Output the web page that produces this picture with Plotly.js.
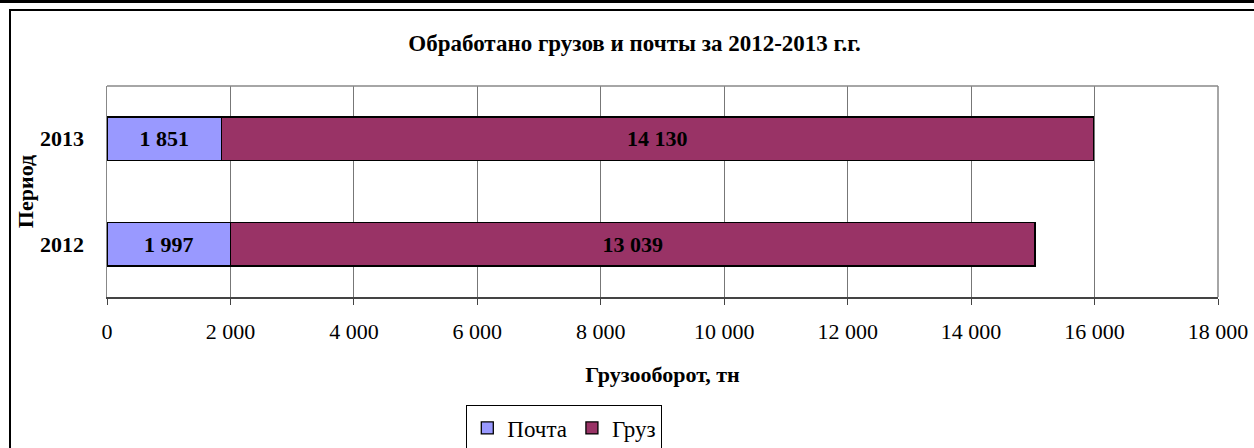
<!DOCTYPE html>
<html>
<head>
<meta charset="utf-8">
<script src="https://cdn.plot.ly/plotly-3.0.1.min.js"></script>
<style>
  body { margin: 0; padding: 0; background: #fff; }
  #wrap { position: relative; width: 1254px; height: 448px; overflow: hidden; }
  #chart { position: absolute; left: 0; top: 0; width: 1254px; height: 448px; }
  .line { position: absolute; background: #000; pointer-events: none; }
</style>
</head>
<body>
<div id="wrap">
  <div id="chart"></div>
  <div class="line" style="left:0;top:0;width:1254px;height:3px;"></div>
  <div class="line" style="left:9px;top:9px;width:1245px;height:2px;"></div>
  <div class="line" style="left:9px;top:9px;width:2px;height:439px;"></div>
</div>
<script>
// Периоды и значения (тн)
var periods = ['2012', '2013'];
var pochta = [1997, 1851];
var gruz = [13039, 14130];

var serif = '"Liberation Serif", "Times New Roman", Times, serif';

function buildChart() {
  var trace1 = {
    type: 'bar',
    orientation: 'h',
    name: 'Почта',
    y: periods,
    x: pochta,
    texttemplate: '<b>%{x:,.0f}</b>',
    textposition: 'inside',
    insidetextanchor: 'middle',
    textfont: { family: serif, size: 22, color: '#000' },
    marker: { color: '#9999FF', line: { color: '#000', width: 1.3 } },
    hoverinfo: 'none'
  };

  var trace2 = {
    type: 'bar',
    orientation: 'h',
    name: 'Груз',
    y: periods,
    x: gruz,
    texttemplate: '<b>%{x:,.0f}</b>',
    textposition: 'inside',
    insidetextanchor: 'middle',
    textfont: { family: serif, size: 22, color: '#000' },
    marker: { color: '#993366', line: { color: '#000', width: 1.3 } },
    hoverinfo: 'none'
  };

  var data = [trace1, trace2];

  var layout = {
    width: 1254,
    height: 448,
    barmode: 'stack',
    bargap: 0.59,
    separators: ', ',
    margin: { l: 107, r: 36, t: 86, b: 151 },
    paper_bgcolor: 'rgba(0,0,0,0)',
    plot_bgcolor: '#fff',
    font: { family: serif, color: '#000' },
    title: {
      text: '<b>Обработано грузов и почты за 2012-2013 г.г.</b>',
      font: { family: serif, size: 23, color: '#000' },
      x: 0.506,
      xanchor: 'center',
      y: 0.904,
      yanchor: 'middle'
    },
    xaxis: {
      range: [0, 18000],
      dtick: 2000,
      tick0: 0,
      tickformat: ',d',
      showgrid: true,
      gridcolor: '#777',
      gridwidth: 1,
      zeroline: false,
      showline: true,
      linecolor: '#444',
      linewidth: 1.5,
      mirror: false,
      ticks: 'outside',
      ticklen: 6,
      tickcolor: '#444',
      tickfont: { family: serif, size: 22, color: '#000' },
      ticklabelstandoff: 8,
      automargin: false,
      title: {
        text: '<b>Грузооборот, тн</b>',
        font: { family: serif, size: 22, color: '#000' },
        standoff: 23
      },
      fixedrange: true
    },
    yaxis: {
      type: 'category',
      showgrid: false,
      zeroline: false,
      showline: true,
      linecolor: '#888',
      linewidth: 1.5,
      ticks: '',
      tickfont: { family: serif, size: 22, color: '#000' },
      tickprefix: '<b>',
      ticksuffix: '</b>',
      ticklabelstandoff: 17,
      automargin: false,
      title: {
        text: '<b>Период</b>',
        font: { family: serif, size: 22, color: '#000' },
        standoff: 0
      },
      fixedrange: true
    },
    shapes: [
      { type: 'line', xref: 'paper', yref: 'paper', x0: 0, x1: 1, y0: 1, y1: 1,
        line: { color: '#888', width: 1.5 } },
      { type: 'line', xref: 'paper', yref: 'paper', x0: 1, x1: 1, y0: 0, y1: 1,
        line: { color: '#888', width: 1.5 } }
    ],
    showlegend: true,
    legend: {
      orientation: 'h',
      xref: 'container',
      yref: 'container',
      x: 0.45,
      xanchor: 'center',
      y: 0.095,
      yanchor: 'top',
      bordercolor: '#000',
      borderwidth: 1,
      bgcolor: '#fff',
      font: { family: serif, size: 23, color: '#000' },
      itemwidth: 30,
      traceorder: 'normal'
    }
  };

  var config = { displayModeBar: false, staticPlot: true };

  Plotly.newPlot('chart', data, layout, config);
}

buildChart();
</script>
</body>
</html>
